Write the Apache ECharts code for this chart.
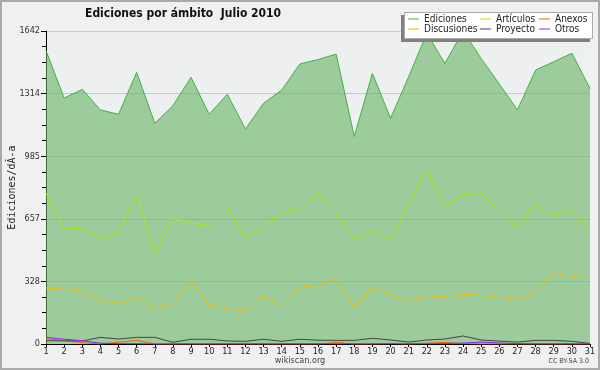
<!DOCTYPE html>
<html><head><meta charset="utf-8">
<script src="https://cdn.jsdelivr.net/npm/echarts@6/dist/echarts.min.js"></script>
<style>html,body{margin:0;padding:0;background:#f0f0f0}#c{width:600px;height:370px}</style>
</head><body><div id="c"></div>
<script>
const days = ['1','2','3','4','5','6','7','8','9','10','11','12','13','14','15','16','17','18','19','20','21','22','23','24','25','26','27','28','29','30','31'];
const ediciones = [1539,1290,1336,1228,1205,1425,1158,1250,1399,1205,1310,1128,1263,1332,1469,1492,1521,1088,1420,1184,1402,1630,1472,1642,1497,1364,1228,1437,1481,1525,1341];
const articulos = [791,602,607,554,581,780,476,659,633,623,722,560,607,691,707,787,686,549,596,549,734,918,720,782,791,701,612,734,675,701,589];
const anexos = [28,17,7,0,9,19,0,0,0,0,0,0,0,0,0,0,8,0,0,3,0,4,8,2,0,0,0,0,0,0,0];
const discusiones = [294,287,276,229,213,247,187,213,334,199,185,171,254,198,297,308,345,194,292,261,229,245,250,261,255,245,234,271,371,355,360];
const proyecto = [17,17,16,35,26,35,35,9,25,25,16,14,25,14,25,20,19,19,30,21,10,21,26,42,21,15,10,19,19,14,3];
const otros = [35,25,17,4,2,2,0,1,1,1,1,1,1,1,1,1,1,1,1,1,1,1,2,5,10,5,2,1,1,1,1];
const yMax = 1642;
const titleText = 'Ediciones por ámbito  Julio 2010';
const yName = 'Ediciones/dÃ-a';

const F = '"DejaVu Sans Condensed", "DejaVu Sans", sans-serif';
const chart = echarts.init(document.getElementById('c'), null, {renderer:'canvas'});
function line(name, data, color, extra) {
  return Object.assign({name, type:'line', data, symbol:'none', smooth:false,
    lineStyle:{color, width:1}, itemStyle:{color}, emphasis:{disabled:true}}, extra||{});
}
function lg(left, names) {
  return {left, top:14, orient:'vertical', padding:0, itemGap:0, itemWidth:11, itemHeight:1,
    icon:'rect', data:names, selectedMode:false, z:60,
    textStyle:{fontFamily:F, fontSize:10, color:'#222', lineHeight:10, padding:[0,0,0,0]}};
}
chart.setOption({
  animation:false,
  backgroundColor:'#f0f0f0',
  title:{text:titleText, left:85, top:8, padding:0, textStyle:{fontFamily:F, fontSize:12, fontWeight:'bold', color:'#111'}},
  graphic:[
    {type:'rect', shape:{x:1,y:1,width:598,height:368}, style:{fill:'none', stroke:'#aaaaaa', lineWidth:2}, z:100},
    {type:'rect', shape:{x:401,y:15,width:189,height:27}, style:{fill:'#808080'}, z:50},
    {type:'rect', shape:{x:404.5,y:12.5,width:188,height:26}, style:{fill:'#ffffff', stroke:'#aaaaaa', lineWidth:1}, z:51},
    {type:'text', left:'center', top:356, style:{text:'wikiscan.org', fontFamily:F, fontSize:9, fill:'#444'}, z:60},
    {type:'text', right:11, top:358, style:{text:'CC BY-SA 3.0', fontFamily:F, fontSize:7, fill:'#444'}, z:60}
  ],
  legend:[lg(408,['Ediciones','Discusiones']), lg(480,['Artículos','Proyecto']), lg(539,['Anexos','Otros'])],
  grid:{left:46, right:10, top:31, bottom:26, outerBoundsMode:'none', containLabel:false, show:true, backgroundColor:'#eeeff1', borderWidth:0},
  xAxis:{type:'category', data:days, boundaryGap:false,
    axisLine:{lineStyle:{color:'#000', width:1}},
    axisTick:{show:true, length:3, alignWithLabel:true, lineStyle:{color:'#000'}},
    axisLabel:{fontFamily:F, fontSize:9, color:'#222', margin:3, interval:0},
    splitLine:{show:false}},
  yAxis:{type:'value', min:0, max:yMax, interval:yMax/5,
    name:yName, nameLocation:'middle', nameRotate:90, nameGap:29, nameMoveOverlap:false,
    nameTextStyle:{fontFamily:'"DejaVu Sans Mono", monospace', fontSize:10, color:'#222'},
    axisLine:{show:true, lineStyle:{color:'#000', width:1}},
    axisTick:{show:true, length:5, lineStyle:{color:'#000'}},
    minorTick:{show:true, splitNumber:4, length:4, lineStyle:{color:'#000'}},
    axisLabel:{fontFamily:F, fontSize:9, color:'#333', margin:6, formatter:v=>String(Math.round(v))},
    splitLine:{show:true, lineStyle:{color:'#c8c8c8', width:1}}},
  series:[
    line('Ediciones', ediciones, '#3fb23f', {areaStyle:{color:'rgb(101,180,100)', opacity:0.6}}),
    line('Artículos', articulos, '#aaee00'),
    line('Anexos', anexos, '#ff5511'),
    line('Discusiones', discusiones, '#eebb00'),
    line('Proyecto', proyecto, '#444444'),
    line('Otros', otros, '#8822ff')
  ]
});
</script></body></html>
